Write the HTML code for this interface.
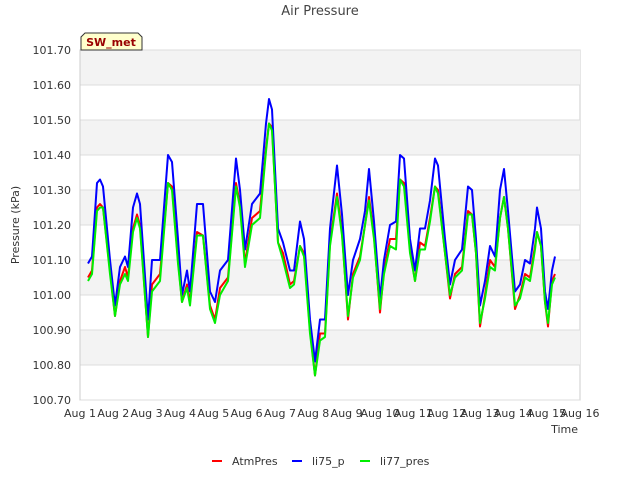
<!DOCTYPE html>
<html><head><meta charset="utf-8"><style>
body{margin:0;background:#fff;font-family:"Liberation Sans","DejaVu Sans",sans-serif}
svg text{font-family:"DejaVu Sans","Liberation Sans",sans-serif}
</style></head><body>
<svg id="c" width="640" height="480" xmlns="http://www.w3.org/2000/svg"></svg>
<script>
const days=[0.24,0.36,0.51,0.60,0.69,0.90,1.05,1.20,1.35,1.44,1.59,1.71,1.80,2.04,2.16,2.40,2.64,2.76,2.94,3.06,3.21,3.30,3.51,3.69,3.90,4.05,4.20,4.44,4.68,4.80,4.95,5.16,5.40,5.58,5.67,5.76,5.94,6.09,6.30,6.42,6.60,6.72,6.90,7.05,7.20,7.35,7.50,7.71,7.86,8.04,8.19,8.40,8.55,8.67,8.82,9.00,9.12,9.30,9.48,9.60,9.72,9.90,10.05,10.20,10.35,10.50,10.65,10.74,10.95,11.10,11.25,11.46,11.64,11.76,11.88,12.00,12.15,12.30,12.45,12.60,12.72,12.84,13.05,13.20,13.35,13.50,13.65,13.71,13.83,13.95,14.04,14.16,14.25];
const li75=[101.09,101.11,101.32,101.33,101.31,101.10,100.97,101.08,101.11,101.08,101.25,101.29,101.26,100.93,101.10,101.10,101.40,101.38,101.16,101.00,101.07,101.01,101.26,101.26,101.01,100.98,101.07,101.10,101.39,101.30,101.13,101.26,101.29,101.49,101.56,101.53,101.19,101.15,101.07,101.07,101.21,101.16,100.93,100.81,100.93,100.93,101.19,101.37,101.23,101.00,101.10,101.16,101.24,101.36,101.21,100.99,101.10,101.20,101.21,101.40,101.39,101.16,101.07,101.19,101.19,101.27,101.39,101.37,101.16,101.03,101.10,101.13,101.31,101.30,101.16,100.97,101.04,101.14,101.11,101.30,101.36,101.24,101.01,101.03,101.10,101.09,101.19,101.25,101.19,101.01,100.96,101.07,101.11];
const atm=[101.05,101.07,101.25,101.26,101.25,101.07,100.94,101.04,101.08,101.05,101.19,101.23,101.20,100.88,101.03,101.06,101.32,101.31,101.10,100.98,101.03,100.98,101.18,101.17,100.97,100.93,101.02,101.05,101.32,101.26,101.09,101.22,101.24,101.42,101.49,101.48,101.15,101.12,101.03,101.04,101.14,101.12,100.90,100.77,100.89,100.89,101.15,101.29,101.18,100.93,101.06,101.11,101.20,101.28,101.17,100.95,101.07,101.16,101.16,101.33,101.32,101.13,101.04,101.15,101.14,101.22,101.31,101.30,101.12,100.99,101.06,101.08,101.24,101.23,101.12,100.91,101.00,101.10,101.08,101.22,101.28,101.19,100.96,101.00,101.06,101.05,101.14,101.18,101.14,100.98,100.91,101.04,101.06];
const li77=[101.04,101.06,101.24,101.25,101.25,101.06,100.94,101.03,101.06,101.04,101.18,101.22,101.19,100.88,101.01,101.04,101.32,101.30,101.09,100.98,101.02,100.97,101.17,101.17,100.96,100.92,101.00,101.04,101.31,101.25,101.08,101.20,101.22,101.41,101.49,101.47,101.15,101.10,101.02,101.03,101.14,101.11,100.89,100.77,100.87,100.88,101.14,101.28,101.17,100.94,101.05,101.10,101.20,101.27,101.16,100.96,101.06,101.14,101.13,101.33,101.31,101.12,101.04,101.13,101.13,101.21,101.31,101.29,101.12,101.00,101.05,101.07,101.23,101.23,101.12,100.92,100.99,101.08,101.07,101.22,101.28,101.19,100.97,100.99,101.05,101.04,101.13,101.18,101.14,100.98,100.92,101.03,101.05];
const yTicks=[100.70,100.80,100.90,101.00,101.10,101.20,101.30,101.40,101.50,101.60,101.70];
const xTicks=["Aug 1","Aug 2","Aug 3","Aug 4","Aug 5","Aug 6","Aug 7","Aug 8","Aug 9","Aug 10","Aug 11","Aug 12","Aug 13","Aug 14","Aug 15","Aug 16"];
const L=80,R=580,T=50,B=400,ymin=100.7,ymax=101.7;
const X=d=>L+d*(R-L)/15, Y=v=>B-(v-ymin)/(ymax-ymin)*(B-T);
const svg=document.getElementById('c'),NS='http://www.w3.org/2000/svg';
function mk(t,a,p){const e=document.createElementNS(NS,t);for(const k in a)e.setAttribute(k,a[k]);(p||svg).appendChild(e);return e;}
let e=mk('rect',{x:L,y:T,width:R-L,height:B-T,fill:'#fff',stroke:'#ccc'});


for(let i=0;i<yTicks.length-1;i+=2){
  e=mk('rect',{x:L,y:Y(yTicks[i+1]),width:R-L,height:Y(yTicks[i])-Y(yTicks[i+1]),fill:'#f3f3f3'});
}
// shading bands: 100.8-100.9, 101.0-101.1, ... 101.6-101.7
svg.querySelectorAll('rect[fill="#f3f3f3"]').forEach(r=>r.remove());
for(let i=1;i<yTicks.length-1;i+=2){
  e=mk('rect',{x:L,y:Y(yTicks[i+1]),width:R-L,height:Y(yTicks[i])-Y(yTicks[i+1]),fill:'#f3f3f3'});
  
  
}
yTicks.forEach(v=>{
  mk('line',{x1:L,x2:R,y1:Y(v),y2:Y(v),stroke:'#ddd'});
  e=mk('text',{x:L-9,y:Y(v)+4,'text-anchor':'end','font-size':11,fill:'#333'});e.textContent=v.toFixed(2);
  
  
});
xTicks.forEach((s,i)=>{
  e=mk('text',{x:X(i),y:B+17,'text-anchor':'middle','font-size':11,fill:'#333'});e.textContent=s;
  
  
});
mk('line',{x1:L,x2:L,y1:T,y2:B,stroke:'#ccc'});
const series=[[atm,'#ff0000','atmpres-line'],[li75,'#0000ff','li75-p-line'],[li77,'#00ee00','li77-pres-line']];
series.forEach(([arr,c,n])=>{
  e=mk('polyline',{points:arr.map((v,i)=>X(days[i]).toFixed(1)+','+Y(v).toFixed(1)).join(' '),fill:'none',stroke:c,'stroke-width':2,'stroke-linejoin':'round'});
  
  
});
e=mk('text',{x:320,y:15,'text-anchor':'middle','font-size':13,fill:'#444'});e.textContent='Air Pressure';


e=mk('text',{x:19,y:225,'text-anchor':'middle','font-size':11,fill:'#333',transform:'rotate(-90 19 225)'});e.textContent='Pressure (kPa)';


e=mk('text',{x:578,y:433,'text-anchor':'end','font-size':11,fill:'#333'});e.textContent='Time';


e=mk('path',{d:'M81,50 L81,37 L85,33 L138,33 L142,37 L142,50 Z',fill:'#ffffcc',stroke:'#333'});


e=mk('text',{x:111,y:46,'text-anchor':'middle','font-size':11,'font-weight':'bold',fill:'#990000'});e.textContent='SW_met';


const leg=[['AtmPres','#ff0000',212],['li75_p','#0000ff',292],['li77_pres','#00ee00',360]];
leg.forEach(([s,c,x])=>{
  const g=mk('g',{});
  
  
  mk('line',{x1:x,x2:x+10,y1:461,y2:461,stroke:c,'stroke-width':2},g);
  const t=mk('text',{x:x+20,y:465,'font-size':11,fill:'#333'},g);t.textContent=s;
});
</script>
</body></html>
